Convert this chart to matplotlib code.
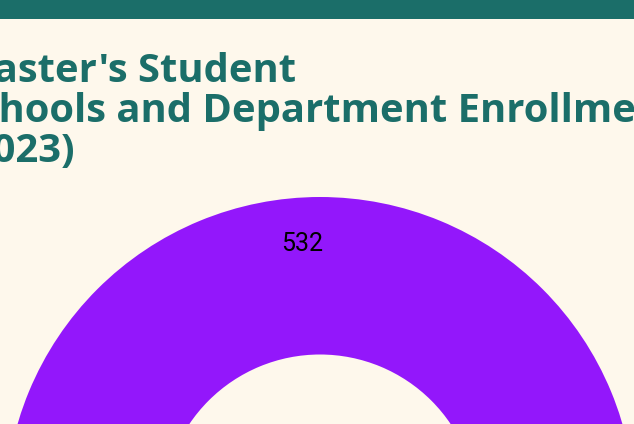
import matplotlib.pyplot as plt
from matplotlib.patches import Rectangle

# data (only the visible part of the chart)
values = [532]
title_lines = ["Master's Student", "Schools and Department Enrollment", "(2023)"]

bg = '#fef8ec'
teal = '#1b6e69'
purple = '#9317fb'

W, H = 634, 424
fig = plt.figure(figsize=(W / 100, H / 100), dpi=100, facecolor=bg)

# header band
fig.add_artist(Rectangle((0, 1 - 19 / H), 1, 19 / H, transform=fig.transFigure,
                         facecolor=teal, edgecolor='none'))

# title (runs off both sides of the canvas); baseline of the last line
fig.text(-44 / W, 1 - 162 / H, "\n".join(title_lines), ha='left', va='baseline',
         fontsize=28.8, fontweight='bold', family='Open Sans', color=teal,
         linespacing=1.04)

# donut: centre at (320, 512) px from top-left, outer radius 315 px
cx, cy, R = 320, 512, 315
ax = fig.add_axes([(cx - R) / W, (H - cy - R) / H, 2 * R / W, 2 * R / H])
ax.set_facecolor(bg)
total = sum(values)
ax.pie(values, colors=[purple], startangle=-86.2, radius=1,
       wedgeprops=dict(width=0.5, edgecolor='none'),
       autopct=lambda p: f'{p * total / 100:.0f}', pctdistance=0.854,
       textprops=dict(fontsize=18, family='Roboto', color='black'))
ax.set_xlim(-1, 1)
ax.set_ylim(-1, 1)
ax.axis('off')

fig.savefig('out.png', dpi=100, facecolor=bg)
